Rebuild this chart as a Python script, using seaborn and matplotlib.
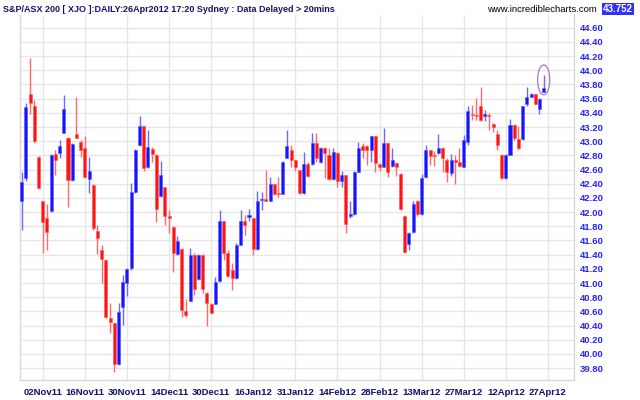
import matplotlib
matplotlib.use("Agg")
import matplotlib.pyplot as plt
from matplotlib.patches import Ellipse
import seaborn as sns
import pandas as pd
import numpy as np

# ---- data ----
opens = [42.15, 42.48, 43.66, 43.49, 42.78, 42.16, 41.91, 42.02, 42.82, 42.84,
         43.12, 43.05, 42.45, 43.10, 42.99, 42.91, 42.47, 42.38, 41.73, 41.47,
         41.33, 40.51, 40.43, 39.86, 40.66, 41.00, 41.21, 42.29, 42.94, 43.21,
         42.63, 42.89, 42.81, 42.23, 42.35, 41.94, 41.79, 41.41, 41.48, 40.61,
         40.75, 41.40, 41.05, 41.40, 40.86, 40.71, 40.71, 41.03, 41.87, 41.42,
         41.18, 41.07, 41.54, 41.87, 41.93, 41.91, 41.48, 42.17, 42.18, 42.16,
         42.39, 42.26, 42.26, 42.77, 42.88, 42.73, 42.59, 42.27, 42.68, 42.68,
         42.97, 42.70, 42.91, 42.80, 42.46, 42.84, 42.44, 42.52, 41.94, 41.97,
         42.57, 42.93, 42.93, 42.87, 43.07, 42.68, 42.64, 42.98, 42.65, 42.69,
         42.54, 41.94, 41.55, 41.72, 42.16, 41.97, 42.49, 42.87, 42.81, 42.83,
         42.91, 42.74, 42.55, 42.73, 42.70, 42.64, 42.99, 43.39, 43.37, 43.49,
         43.36, 43.37, 43.24, 43.10, 42.81, 42.48, 42.81, 43.23, 43.03, 43.03,
         43.52, 43.63, 43.66, 43.46, 43.70]
highs = [42.57, 43.54, 44.18, 43.58, 42.79, 42.16, 42.12, 42.82, 42.87, 43.02,
         43.65, 43.06, 42.97, 43.63, 43.02, 43.07, 42.78, 42.39, 41.82, 41.53,
         41.34, 40.72, 40.44, 40.72, 41.11, 41.21, 42.41, 42.89, 43.36, 43.21,
         43.16, 42.92, 42.82, 42.72, 42.36, 42.03, 41.80, 41.66, 41.49, 40.77,
         41.49, 41.42, 41.41, 41.41, 40.87, 40.72, 41.09, 42.03, 41.88, 41.47,
         41.28, 41.56, 42.03, 41.96, 42.04, 41.92, 42.30, 42.29, 42.59, 42.50,
         42.40, 42.50, 42.72, 43.16, 42.95, 42.74, 42.60, 42.85, 42.71, 43.11,
         43.12, 42.92, 42.92, 42.90, 42.90, 42.85, 42.58, 42.53, 42.15, 42.58,
         42.99, 42.97, 42.94, 43.08, 43.08, 42.69, 43.18, 42.99, 42.90, 42.70,
         42.55, 41.95, 41.72, 42.16, 42.17, 42.54, 42.95, 42.88, 42.86, 43.10,
         42.92, 42.76, 42.82, 42.80, 42.90, 43.09, 43.49, 43.51, 43.61, 43.77,
         43.44, 43.40, 43.25, 43.16, 42.82, 42.82, 43.31, 43.24, 43.21, 43.50,
         43.77, 43.68, 43.67, 43.61, 43.94]
lows = [41.75, 42.44, 43.39, 42.98, 42.33, 41.42, 41.46, 42.00, 42.52, 42.76,
        43.11, 42.07, 42.44, 43.04, 42.78, 42.48, 42.27, 41.75, 41.41, 41.00,
        40.50, 40.30, 39.75, 39.85, 40.41, 40.81, 41.19, 42.27, 42.93, 42.58,
        42.62, 42.71, 41.86, 42.22, 41.82, 41.70, 41.16, 41.40, 40.52, 40.52,
        40.74, 40.83, 41.04, 40.86, 40.39, 40.57, 40.70, 41.02, 41.33, 41.09,
        40.90, 41.06, 41.53, 41.68, 41.87, 41.40, 41.47, 42.03, 42.15, 42.15,
        42.24, 42.22, 42.25, 42.76, 42.64, 42.58, 42.26, 42.26, 42.49, 42.67,
        42.71, 42.69, 42.48, 42.45, 42.45, 42.35, 42.35, 41.71, 41.91, 41.96,
        42.56, 42.76, 42.66, 42.71, 42.57, 42.58, 42.63, 42.49, 42.64, 42.51,
        42.03, 41.43, 41.47, 41.71, 41.94, 41.96, 42.48, 42.66, 42.65, 42.82,
        42.57, 42.43, 42.51, 42.40, 42.64, 42.63, 42.95, 43.30, 43.30, 43.29,
        43.29, 43.16, 43.13, 42.88, 42.47, 42.47, 42.80, 43.02, 42.88, 43.02,
        43.50, 43.62, 43.52, 43.38, 43.69]
closes = [42.43, 43.48, 43.54, 43.00, 42.34, 41.86, 41.72, 42.81, 42.73, 42.93,
          43.45, 42.45, 42.96, 43.05, 42.87, 42.49, 42.58, 41.78, 41.64, 41.34,
          40.52, 40.45, 39.86, 40.59, 41.02, 41.20, 42.29, 42.88, 43.21, 42.62,
          42.92, 42.82, 42.04, 42.52, 41.94, 41.92, 41.42, 41.59, 40.62, 40.55,
          41.40, 40.92, 41.40, 40.91, 40.72, 40.58, 41.02, 41.87, 41.43, 41.10,
          41.07, 41.53, 41.87, 41.82, 41.96, 41.48, 42.16, 42.18, 42.16, 42.39,
          42.26, 42.25, 42.71, 42.93, 42.73, 42.64, 42.27, 42.68, 42.51, 42.97,
          42.76, 42.91, 42.84, 42.46, 42.85, 42.44, 42.52, 41.83, 41.97, 42.57,
          42.91, 42.87, 42.87, 43.07, 42.69, 42.64, 42.98, 42.57, 42.73, 42.64,
          42.04, 41.44, 41.71, 42.12, 41.97, 42.48, 42.87, 42.79, 42.79, 42.91,
          42.77, 42.56, 42.73, 42.71, 42.65, 43.02, 43.43, 43.37, 43.35, 43.30,
          43.37, 43.35, 43.20, 42.94, 42.48, 42.81, 43.23, 43.04, 42.90, 43.49,
          43.63, 43.67, 43.53, 43.60, 43.75]

tick_labels = ["02Nov11", "16Nov11", "30Nov11", "14Dec11", "30Dec11", "16Jan12",
               "31Jan12", "14Feb12", "28Feb12", "13Mar12", "27Mar12", "12Apr12",
               "27Apr12"]
first_tick_index = 5
tick_step = 10
y_ticks = [39.8 + 0.2 * k for k in range(25)]

title = "S&P/ASX 200 [ XJO ]:DAILY:26Apr2012 17:20 Sydney : Data Delayed > 20mins"
site = "www.incrediblecharts.com"
last_value = "43.752"

df = pd.DataFrame({"O": opens, "H": highs, "L": lows, "C": closes})
df["day"] = np.arange(len(df))
df["up"] = df["C"] >= df["O"]

# ---- style ----
sns.set_theme(style="whitegrid")
plt.rcParams['font.family'] = ['Liberation Sans', 'DejaVu Sans']

fig = plt.figure(figsize=(6.4, 4.0), dpi=100)
ax = fig.add_axes([20 / 640, 20 / 400, (574 - 20) / 640, (385 - 20) / 400])
ax.set_facecolor("white")

up_c, dn_c = "#1414ff", "#ff1414"
wick_up, wick_dn = "#6a6aff", "#ff6a6a"

up = df[df["up"]]
dn = df[~df["up"]]
ax.vlines(up["day"], up["L"], up["H"], color=wick_up, lw=1.0, zorder=2)
ax.vlines(dn["day"], dn["L"], dn["H"], color=wick_dn, lw=1.0, zorder=2)
ax.bar(up["day"], (up["C"] - up["O"]).clip(lower=0.02), bottom=up["O"],
       width=0.72, color=up_c, edgecolor="#5a5aff", lw=0.4, zorder=3)
ax.bar(dn["day"], (dn["O"] - dn["C"]).clip(lower=0.02), bottom=dn["C"],
       width=0.72, color=dn_c, edgecolor="#ff5a5a", lw=0.4, zorder=3)

ax.set_xlim(-0.4, 131.2)
ax.set_ylim(39.632, 44.78)

ax.set_xticks([first_tick_index + tick_step * k for k in range(len(tick_labels))])
ax.set_xticklabels(tick_labels)
ax.set_yticks(y_ticks)
ax.set_yticklabels([f"{v:.2f}" for v in y_ticks])
ax.yaxis.tick_right()
ax.tick_params(axis="y", length=0, pad=4, labelsize=6.8, labelcolor="#2424ff")
ax.tick_params(axis="x", length=0, pad=6, labelsize=6.8, labelcolor="#10106e")
for t in ax.get_yticklabels() + ax.get_xticklabels():
    t.set_fontweight("bold")

ax.grid(True, color="#e6e6e6", lw=1.0)
ax.set_axisbelow(True)
for side in ["left", "bottom", "right"]:
    ax.spines[side].set_visible(True)
    ax.spines[side].set_color("#d8d8d8")
    ax.spines[side].set_linewidth(1.0)
ax.spines["top"].set_visible(False)

# highlight last candle
last = len(df) - 1
ax.add_patch(Ellipse((last, (df["H"].iloc[last] + df["C"].iloc[last]) / 2 + 0.02),
                     width=2.9, height=0.42, fill=False, ec="#a878b8", lw=0.9, zorder=4))

fig.text(3 / 640, 1 - 9 / 400, title, fontsize=6.5, fontweight="bold",
         color="#14146e", va="center", ha="left")
fig.text(597 / 640, 1 - 9 / 400, site, fontsize=6.8, color="black",
         va="center", ha="right")
fig.text(618 / 640, 1 - 9 / 400, last_value, fontsize=7.0, fontweight="bold",
         color="white", va="center", ha="center",
         bbox=dict(boxstyle="square,pad=0.15", fc="#3030ff", ec="none"))

fig.savefig("out.png", dpi=100, facecolor="white")
